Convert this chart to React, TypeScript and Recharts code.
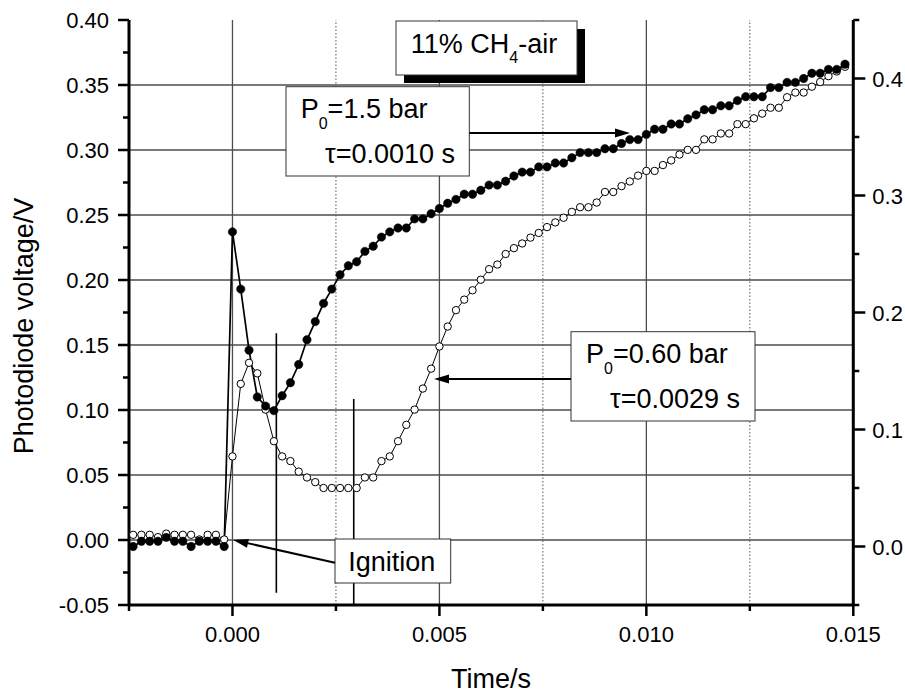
import React from 'react';
import {
  LineChart,
  Line,
  XAxis,
  YAxis,
  ReferenceLine,
} from 'recharts';

// time axis (s), one sample every 0.2 ms
const TIME_S = [
  -0.0024, -0.0022, -0.0020, -0.0018, -0.0016, -0.0014, -0.0012, -0.0010, -0.0008, -0.0006, -0.0004, -0.0002,
  0.0000, 0.0002, 0.0004, 0.0006, 0.0008, 0.0010, 0.0012, 0.0014, 0.0016, 0.0018,
  0.0020, 0.0022, 0.0024, 0.0026, 0.0028, 0.0030, 0.0032, 0.0034, 0.0036, 0.0038,
  0.0040, 0.0042, 0.0044, 0.0046, 0.0048, 0.0050, 0.0052, 0.0054, 0.0056, 0.0058,
  0.0060, 0.0062, 0.0064, 0.0066, 0.0068, 0.0070, 0.0072, 0.0074, 0.0076, 0.0078,
  0.0080, 0.0082, 0.0084, 0.0086, 0.0088, 0.0090, 0.0092, 0.0094, 0.0096, 0.0098,
  0.0100, 0.0102, 0.0104, 0.0106, 0.0108, 0.0110, 0.0112, 0.0114, 0.0116, 0.0118,
  0.0120, 0.0122, 0.0124, 0.0126, 0.0128, 0.0130, 0.0132, 0.0134, 0.0136, 0.0138,
  0.0140, 0.0142, 0.0144, 0.0146, 0.0148,
];

// P0 = 1.5 bar (filled circles, left axis, V)
const P15_BAR = [
  -0.005, -0.001, -0.001, -0.001, 0.002, -0.001, -0.001, -0.005, -0.001, -0.001, -0.001, -0.005,
  0.237, 0.193, 0.146, 0.110, 0.103, 0.0995, 0.111, 0.121, 0.135, 0.154,
  0.168, 0.182, 0.193, 0.204, 0.211, 0.214, 0.222, 0.226, 0.233, 0.237,
  0.240, 0.240, 0.247, 0.247, 0.251, 0.255, 0.259, 0.262, 0.266, 0.266,
  0.269, 0.273, 0.273, 0.276, 0.280, 0.283, 0.283, 0.287, 0.287, 0.290,
  0.290, 0.294, 0.298, 0.298, 0.298, 0.301, 0.301, 0.305, 0.308, 0.308,
  0.312, 0.316, 0.316, 0.320, 0.320, 0.324, 0.327, 0.331, 0.331, 0.334,
  0.334, 0.338, 0.341, 0.341, 0.341, 0.348, 0.348, 0.352, 0.352, 0.355,
  0.359, 0.359, 0.362, 0.362, 0.366,
];

// P0 = 0.60 bar (open circles, right axis)
const P060_BAR = [
  0.010, 0.010, 0.010, 0.008, 0.011, 0.010, 0.010, 0.010, 0.006, 0.010, 0.010, 0.006,
  0.077, 0.139, 0.157, 0.148, 0.117, 0.090, 0.077, 0.073, 0.064, 0.059,
  0.055, 0.050, 0.050, 0.050, 0.050, 0.050, 0.059, 0.059, 0.073, 0.077,
  0.090, 0.104, 0.117, 0.135, 0.152, 0.171, 0.188, 0.202, 0.211, 0.219,
  0.228, 0.237, 0.241, 0.250, 0.255, 0.259, 0.264, 0.268, 0.273, 0.277,
  0.281, 0.286, 0.290, 0.290, 0.294, 0.303, 0.303, 0.308, 0.312, 0.317,
  0.321, 0.321, 0.326, 0.330, 0.335, 0.339, 0.339, 0.348, 0.348, 0.353,
  0.353, 0.361, 0.361, 0.366, 0.370, 0.375, 0.375, 0.384, 0.388, 0.388,
  0.393, 0.397, 0.402, 0.406, 0.410,
];

// axis ticks (majors get labels, the rest are minor ticks)
const X_TICKS = [-0.0025, 0, 0.0025, 0.005, 0.0075, 0.01, 0.0125, 0.015];
const LEFT_TICKS = [-0.05, -0.025, 0, 0.025, 0.05, 0.075, 0.1, 0.125, 0.15, 0.175, 0.2, 0.225, 0.25, 0.275, 0.3, 0.325, 0.35, 0.375, 0.4];
const RIGHT_TICKS = [-0.05, 0, 0.05, 0.1, 0.15, 0.2, 0.25, 0.3, 0.35, 0.4, 0.45];
const H_GRID = [0, 0.05, 0.1, 0.15, 0.2, 0.25, 0.3, 0.35];
const V_GRID = [0, 0.005, 0.01];
const V_DOTTED = [0.0025, 0.0075, 0.0125];

const rows = TIME_S.map((t, i) => ({ t, p15: P15_BAR[i], p060: P060_BAR[i] }));

const FONT = '"Liberation Sans", Arial, Helvetica, sans-serif';
const TICK_W = 2.5;

const isMajor = (v: number, step: number) => Math.abs(v / step - Math.round(v / step)) < 1e-6;

const LeftTick = ({ x, y, payload }: any) => {
  const major = isMajor(payload.value, 0.05);
  return (
    <g>
      <line x1={x - (major ? 11 : 6)} x2={x} y1={y} y2={y} stroke="#000" strokeWidth={TICK_W} />
      {major && (
        <text x={x - 20} y={y + 8} textAnchor="end" fontSize={22} fontFamily={FONT} fill="#000">
          {payload.value.toFixed(2)}
        </text>
      )}
    </g>
  );
};

const RightTick = ({ x, y, payload }: any) => {
  const major = isMajor(payload.value, 0.1);
  return (
    <g>
      <line x1={x} x2={x + (major ? 12 : 6)} y1={y} y2={y} stroke="#000" strokeWidth={TICK_W} />
      {major && (
        <text x={x + 19} y={y + 8} textAnchor="start" fontSize={22} fontFamily={FONT} fill="#000">
          {payload.value.toFixed(1)}
        </text>
      )}
    </g>
  );
};

const BottomTick = ({ x, y, payload }: any) => {
  const major = isMajor(payload.value, 0.005);
  return (
    <g>
      <line x1={x} x2={x} y1={y} y2={y + (major ? 11 : 6)} stroke="#000" strokeWidth={TICK_W} />
      {major && (
        <text x={x} y={y + 37} textAnchor="middle" fontSize={22} fontFamily={FONT} fill="#000">
          {payload.value.toFixed(3)}
        </text>
      )}
    </g>
  );
};

// top axis: ticks point into the plot, no labels
const TopTick = ({ x, y, payload }: any) => {
  const major = isMajor(payload.value, 0.005);
  return <line x1={x} x2={x} y1={y} y2={y + (major ? 12 : 6)} stroke="#000" strokeWidth={TICK_W} />;
};

// filled arrow head at (x2, y2)
const arrowHead = (x1: number, y1: number, x2: number, y2: number, len = 15, half = 4.5) => {
  const dx = x2 - x1;
  const dy = y2 - y1;
  const d = Math.hypot(dx, dy);
  const ux = dx / d;
  const uy = dy / d;
  const bx = x2 - ux * len;
  const by = y2 - uy * len;
  return `${x2},${y2} ${bx - uy * half},${by + ux * half} ${bx + uy * half},${by - ux * half}`;
};

const Arrow = ({ x1, y1, x2, y2 }: { x1: number; y1: number; x2: number; y2: number }) => {
  const d = Math.hypot(x2 - x1, y2 - y1);
  const ex = x2 - ((x2 - x1) / d) * 12;
  const ey = y2 - ((y2 - y1) / d) * 12;
  return (
    <g>
      <line x1={x1} y1={y1} x2={ex} y2={ey} stroke="#000" strokeWidth={2} />
      <polygon points={arrowHead(x1, y1, x2, y2)} fill="#000" />
    </g>
  );
};

const BOX = { fill: '#fff', stroke: '#333', strokeWidth: 1 };

const Annotations = () => (
  <svg
    width={905}
    height={693}
    style={{ position: 'absolute', left: 0, top: 0, pointerEvents: 'none' }}
    fontFamily={FONT}
    fill="#000"
  >
    {/* axis titles */}
    <text x={491} y={688} textAnchor="middle" fontSize={27}>Time/s</text>
    <text x={33} y={326} textAnchor="middle" fontSize={27} transform="rotate(-90 33 326)">
      Photodiode voltage/V
    </text>

    {/* mixture label with shadow */}
    <rect x={404} y={29} width={181} height={54} fill="#000" />
    <rect x={396} y={21} width={181} height={54} {...BOX} />
    <text x={410.7} y={53} fontSize={27}>
      11% CH<tspan fontSize={16} dy={10}>4</tspan><tspan dy={-10}>-air</tspan>
    </text>

    {/* P0 = 1.5 bar */}
    <rect x={286} y={86.7} width={183.3} height={89.3} {...BOX} />
    <text x={300.7} y={118.3} fontSize={27}>
      P<tspan fontSize={16} dy={11}>0</tspan><tspan dy={-11}>=1.5 bar</tspan>
    </text>
    <text x={455} y={162.7} fontSize={27} textAnchor="end">τ=0.0010 s</text>
    <Arrow x1={469.3} y1={133} x2={630} y2={133} />

    {/* P0 = 0.60 bar */}
    <rect x={571} y={331.7} width={184} height={89.3} {...BOX} />
    <text x={586} y={363.3} fontSize={27}>
      P<tspan fontSize={16} dy={11}>0</tspan><tspan dy={-11}>=0.60 bar</tspan>
    </text>
    <text x={740} y={407.7} fontSize={27} textAnchor="end">τ=0.0029 s</text>
    <Arrow x1={571} y1={379} x2={434} y2={379} />

    {/* ignition */}
    <rect x={335} y={539} width={115.7} height={44} {...BOX} />
    <text x={348.3} y={570.7} fontSize={27}>Ignition</text>
    <Arrow x1={335} y1={562.7} x2={233.3} y2={540} />
  </svg>
);

const App: React.FC = () => {
  return (
    <div style={{ position: 'absolute', left: 0, top: 0, width: 905, height: 693, background: '#fff', fontFamily: FONT }}>
      <LineChart
        width={905}
        height={693}
        data={rows}
        margin={{ top: 20, right: 1.7, bottom: 8, left: 9 }}
      >
        <XAxis
          xAxisId="x"
          dataKey="t"
          type="number"
          domain={[-0.0025, 0.015]}
          ticks={X_TICKS}
          interval={0}
          allowDataOverflow
          height={80}
          tickSize={0}
          tickMargin={0}
          tickLine={false}
          axisLine={{ stroke: '#000', strokeWidth: 3 }}
          tick={BottomTick}
        />
        <XAxis
          xAxisId="top"
          orientation="top"
          dataKey="t"
          type="number"
          domain={[-0.0025, 0.015]}
          ticks={X_TICKS}
          interval={0}
          allowDataOverflow
          height={0}
          tickSize={0}
          tickMargin={0}
          tickLine={false}
          axisLine={{ stroke: '#000', strokeWidth: 3 }}
          tick={TopTick}
        />
        <YAxis
          yAxisId="left"
          type="number"
          domain={[-0.05, 0.4]}
          ticks={LEFT_TICKS}
          interval={0}
          allowDataOverflow
          width={120}
          tickSize={0}
          tickMargin={0}
          tickLine={false}
          axisLine={{ stroke: '#000', strokeWidth: 3 }}
          tick={LeftTick}
        />
        <YAxis
          yAxisId="right"
          orientation="right"
          type="number"
          domain={[-0.05, 0.45]}
          ticks={RIGHT_TICKS}
          interval={0}
          allowDataOverflow
          width={50}
          tickSize={0}
          tickMargin={0}
          tickLine={false}
          axisLine={{ stroke: '#000', strokeWidth: 3 }}
          tick={RightTick}
        />

        {H_GRID.map((v) => (
          <ReferenceLine key={`h${v}`} xAxisId="x" yAxisId="left" y={v} stroke="#4d4d4d" strokeWidth={1.3} />
        ))}
        {V_GRID.map((v) => (
          <ReferenceLine key={`v${v}`} xAxisId="x" yAxisId="left" x={v} stroke="#4d4d4d" strokeWidth={1.3} />
        ))}
        {V_DOTTED.map((v) => (
          <ReferenceLine key={`d${v}`} xAxisId="x" yAxisId="left" x={v} stroke="#555" strokeWidth={1} strokeDasharray="1.5 2" />
        ))}

        {/* induction-time markers */}
        <ReferenceLine
          xAxisId="x"
          yAxisId="left"
          segment={[{ x: 0.00106, y: 0.159 }, { x: 0.00106, y: -0.0405 }]}
          stroke="#000"
          strokeWidth={1.6}
        />
        <ReferenceLine
          xAxisId="x"
          yAxisId="left"
          segment={[{ x: 0.00293, y: 0.1085 }, { x: 0.00293, y: -0.05 }]}
          stroke="#000"
          strokeWidth={1.6}
        />

        <Line
          xAxisId="x"
          yAxisId="right"
          dataKey="p060"
          stroke="#000"
          strokeWidth={1}
          dot={{ r: 3.7, fill: '#fff', stroke: '#000', strokeWidth: 1 }}
          isAnimationActive={false}
        />
        <Line
          xAxisId="x"
          yAxisId="left"
          dataKey="p15"
          stroke="#000"
          strokeWidth={1.7}
          dot={{ r: 4.2, fill: '#000', stroke: '#000', strokeWidth: 0.5 }}
          isAnimationActive={false}
        />
      </LineChart>
      <Annotations />
    </div>
  );
};

export default App;
